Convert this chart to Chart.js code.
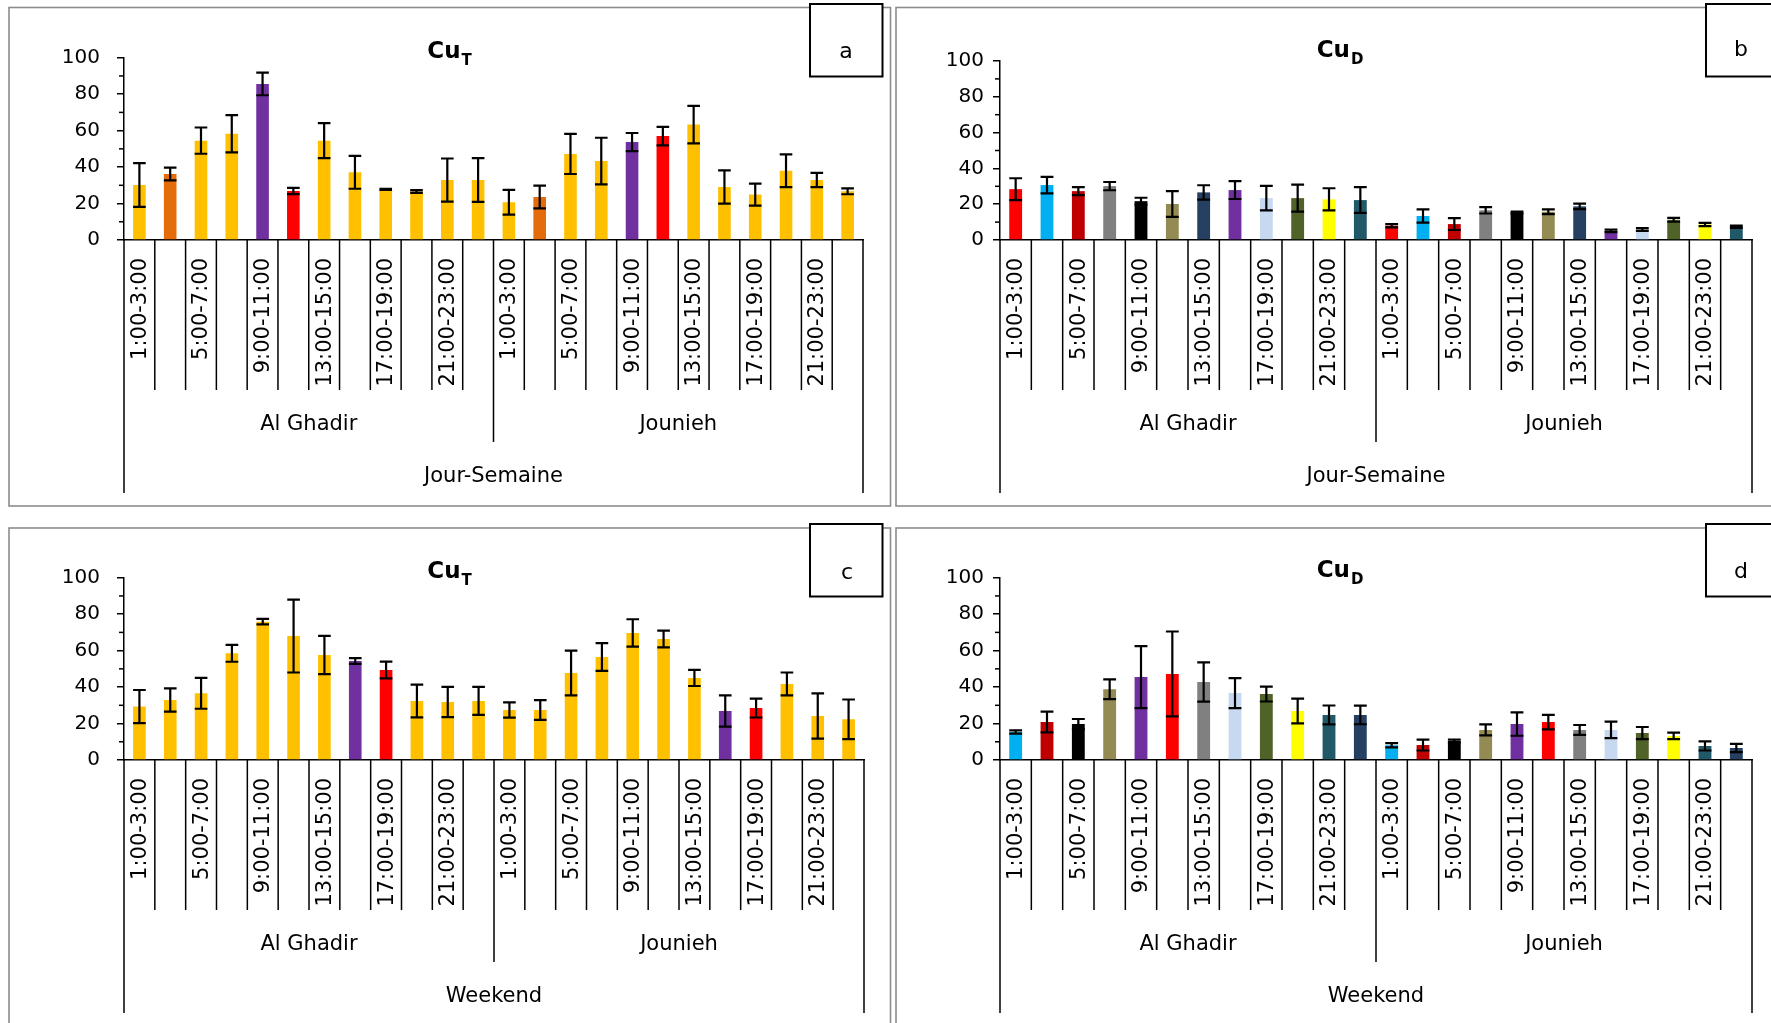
<!DOCTYPE html>
<html><head><meta charset="utf-8">
<script src="https://cdn.jsdelivr.net/npm/chart.js@4.4.1/dist/chart.umd.min.js"></script>
<style>
html,body{margin:0;padding:0;background:#fff;overflow:hidden;width:1771px;height:1023px;}
canvas{position:absolute;}
</style></head><body>
<canvas id="ca" width="893" height="515" style="left:0;top:0"></canvas>
<canvas id="cb" width="878" height="515" style="left:893px;top:0"></canvas>
<canvas id="cc" width="893" height="508" style="left:0;top:515px"></canvas>
<canvas id="cd" width="878" height="508" style="left:893px;top:515px"></canvas>
<script>
// ---------- data ----------
const timeSlots = ['1:00-3:00','3:00-5:00','5:00-7:00','7:00-9:00','9:00-11:00','11:00-13:00',
                   '13:00-15:00','15:00-17:00','17:00-19:00','19:00-21:00','21:00-23:00','23:00-1:00'];
const sites = ['Al Ghadir','Jounieh'];
const yTicks = [0,20,40,60,80,100];

// a: CuT, Jour-Semaine
const aGhadir = [30.2,36.2,54.5,58.3,85.6,26.9,54.5,37.1,27.8,26.6,32.9,32.9];
const aGhadirErr = [12,3.5,7.2,10.2,6.2,1.7,9.6,9,0.3,0.8,11.8,12];
const aJounieh = [20.7,23.6,47.2,43.3,53.7,57,63.3,29.1,24.9,38,32.9,26.7];
const aJouniehErr = [6.8,6.2,11,12.8,5,5.1,10.3,9.1,6,9,3.9,1.6];
// b: CuD, Jour-Semaine
const bGhadir = [28.4,30.7,27.3,30.1,21.7,20.1,26.6,27.9,23.4,23.4,22.7,22.3];
const bGhadirErr = [6.1,4.6,2.2,2.3,1.9,7.2,4,5,6.8,7.5,6.2,7.2];
const bJounieh = [8,13.4,8.9,16.6,15.4,15.8,18.8,5.1,5.9,11.3,8.7,7.4];
const bJouniehErr = [0.9,3.7,3.3,1.8,0.5,1.3,1.5,0.7,0.75,1.1,0.9,0.6];
// c: CuT, Weekend
const cGhadir = [29.3,32.9,36.6,58.5,75.9,68,57.6,54.3,49.4,32.4,31.8,32.4];
const cGhadirErr = [9.1,6.4,8.5,4.6,1.5,20,10.5,1.6,4.6,9,8.3,7.7];
const cJounieh = [27.4,27.4,47.7,56.5,69.7,66.4,45,26.9,28.5,41.7,24.1,22.3];
const cJouniehErr = [4.2,5.4,12.3,7.6,7.5,4.6,4.4,8.6,5.2,6.3,12.4,10.9];
// d: CuD, Weekend
const dGhadir = [15.4,20.8,19.7,38.8,45.5,47.2,42.8,36.7,36.2,26.9,24.7,24.7];
const dGhadirErr = [0.9,5.7,2.8,5.4,17,23.3,10.8,8.2,4.1,6.8,5.2,5.1];
const dJounieh = [8.1,8.2,10.4,16.5,19.7,20.8,16.5,16.5,14.8,13.2,7.7,6.6];
const dJouniehErr = [1.2,3,0.8,3,6.4,4,2.7,4.5,3.3,1.8,2.5,2.3];

// ---------- colours ----------
const Y='#FFC000', O='#E46C0A', P='#7030A0', R='#FF0000';
const colorsA = [Y,O,Y,Y,P,R,Y,Y,Y,Y,Y,Y];
const colorsC = [Y,Y,Y,Y,Y,Y,Y,P,R,Y,Y,Y];
const colorsB = ['#FF0000','#00B0F0','#C00000','#808080','#000000','#948A54','#254061','#7030A0','#C6D9F1','#4F6228','#FFFF00','#215968'];
const colorsD = ['#00B0F0','#C00000','#000000','#948A54','#7030A0','#FF0000','#808080','#C6D9F1','#4F6228','#FFFF00','#215968','#254061'];

const FONT = 'DejaVu Sans';

const panels = [
  {id:'ca', vals:[aGhadir,aJounieh], errs:[aGhadirErr,aJouniehErr], cols:[colorsA,colorsA],
   sub:'T', letter:'a', period:'Jour-Semaine',
   area:{l:124,r:863,t:57.7,b:240}, border:{x:9,y:7.5,w:881.5,h:498.5},
   box:{x:810,y:4,w:72.5,h:72.5}, lp:{x:846,y:52}, tx:449.6, tb:58.3, yPad:17},
  {id:'cb', vals:[bGhadir,bJounieh], errs:[bGhadirErr,bJouniehErr], cols:[colorsB,colorsB],
   sub:'D', letter:'b', period:'Jour-Semaine',
   area:{l:107,r:859,t:61,b:240}, border:{x:3,y:7.5,w:885,h:498.5},
   box:{x:813,y:4,w:80,h:72.5}, lp:{x:848,y:50}, tx:447, tb:56.7, yPad:9},
  {id:'cc', vals:[cGhadir,cJounieh], errs:[cGhadirErr,cJouniehErr], cols:[colorsC,colorsC],
   sub:'T', letter:'c', period:'Weekend',
   area:{l:124,r:864,t:62.7,b:245}, border:{x:9,y:13,w:881.5,h:520},
   box:{x:810,y:9,w:72.5,h:72.5}, lp:{x:847,y:58}, tx:449.6, tb:63.3, yPad:17},
  {id:'cd', vals:[dGhadir,dJounieh], errs:[dGhadirErr,dJouniehErr], cols:[colorsD,colorsD],
   sub:'D', letter:'d', period:'Weekend',
   area:{l:107,r:859,t:62.7,b:245}, border:{x:3,y:13,w:885,h:520},
   box:{x:813,y:9,w:80,h:72.5}, lp:{x:848,y:57}, tx:447, tb:62, yPad:9}
];

function makePanel(cfg){
  const canvas = document.getElementById(cfg.id);
  const W = canvas.width, H = canvas.height;
  const labels = [];
  sites.forEach(s => timeSlots.forEach(t => labels.push([t, s])));
  const values = cfg.vals[0].concat(cfg.vals[1]);
  const errors = cfg.errs[0].concat(cfg.errs[1]);
  const colors = cfg.cols[0].concat(cfg.cols[1]);

  const deco = {
    id:'deco_'+cfg.id,
    afterDatasetsDraw(chart){
      const ctx = chart.ctx, ys = chart.scales.y;
      const meta = chart.getDatasetMeta(0);
      ctx.save();
      ctx.strokeStyle = '#000'; ctx.lineWidth = 2.2;
      meta.data.forEach((bar,i)=>{
        const v = values[i], e = errors[i];
        const yT = ys.getPixelForValue(v+e), yB = ys.getPixelForValue(v-e);
        const hw = bar.width/2;
        ctx.beginPath();
        ctx.moveTo(bar.x, yT); ctx.lineTo(bar.x, yB);
        ctx.moveTo(bar.x-hw, yT); ctx.lineTo(bar.x+hw, yT);
        ctx.moveTo(bar.x-hw, yB); ctx.lineTo(bar.x+hw, yB);
        ctx.stroke();
      });
      ctx.restore();
    },
    afterDraw(chart){
      const ctx = chart.ctx, xs = chart.scales.x, ys = chart.scales.y, a = chart.chartArea;
      ctx.save();
      // minor y ticks
      ctx.strokeStyle='#000'; ctx.lineWidth=1.5;
      for (let i=0;i<yTicks.length-1;i++){
        const y = ys.getPixelForValue((yTicks[i]+yTicks[i+1])/2);
        ctx.beginPath(); ctx.moveTo(a.left-5,y); ctx.lineTo(a.left,y); ctx.stroke();
      }
      // category boundaries
      const step = xs.getPixelForValue(1) - xs.getPixelForValue(0);
      const x0 = xs.getPixelForValue(0) - step/2;
      const n = labels.length, per = timeSlots.length;
      ctx.lineWidth = 1.5;
      for (let k=0;k<=n;k++){
        const x = x0 + k*step;
        let len = 150;
        if (k===0 || k===n) len = 253; else if (k%per===0) len = 202;
        ctx.beginPath(); ctx.moveTo(x, a.bottom); ctx.lineTo(x, a.bottom+len); ctx.stroke();
      }
      // time labels (every other one shown)
      ctx.fillStyle='#000';
      ctx.font = '21px "'+FONT+'"';
      ctx.textAlign='right'; ctx.textBaseline='middle';
      for (let i=0;i<n;i+=2){
        const x = xs.getPixelForValue(i);
        ctx.save(); ctx.translate(x, a.bottom+18); ctx.rotate(-Math.PI/2);
        ctx.fillText(labels[i][0], 0, 1);
        ctx.restore();
      }
      // site labels
      ctx.textAlign='center'; ctx.textBaseline='middle';
      sites.forEach((s,j)=>{
        const xa = x0 + j*per*step, xb = x0 + (j+1)*per*step;
        ctx.fillText(s, (xa+xb)/2, a.bottom+185);
      });
      ctx.fillText(cfg.period, (x0 + x0 + n*step)/2, a.bottom+237);
      // title
      ctx.textAlign='left'; ctx.textBaseline='alphabetic';
      ctx.font = 'bold 23px "'+FONT+'"';
      const w1 = ctx.measureText('Cu').width;
      ctx.font = 'bold 15px "'+FONT+'"';
      const w2 = ctx.measureText(cfg.sub).width;
      const sx = cfg.tx - (w1+1+w2)/2;
      ctx.font = 'bold 23px "'+FONT+'"';
      ctx.fillText('Cu', sx, cfg.tb);
      ctx.font = 'bold 15px "'+FONT+'"';
      ctx.fillText(cfg.sub, sx+w1+1, cfg.tb+7);
      // panel border
      ctx.strokeStyle='#8c8c8c'; ctx.lineWidth=1.6;
      ctx.strokeRect(cfg.border.x, cfg.border.y, cfg.border.w, cfg.border.h);
      // letter box
      ctx.fillStyle='#fff';
      ctx.fillRect(cfg.box.x, cfg.box.y, cfg.box.w, cfg.box.h);
      ctx.strokeStyle='#000'; ctx.lineWidth=2;
      ctx.strokeRect(cfg.box.x, cfg.box.y, cfg.box.w, cfg.box.h);
      ctx.fillStyle='#000';
      ctx.font = '22px "'+FONT+'"';
      ctx.textAlign='center'; ctx.textBaseline='middle';
      ctx.fillText(cfg.letter, cfg.lp.x, cfg.lp.y);
      ctx.restore();
    }
  };

  new Chart(canvas.getContext('2d'), {
    type:'bar',
    data:{labels, datasets:[{data:values, backgroundColor:colors, borderWidth:0,
      barPercentage:0.41, categoryPercentage:1}]},
    options:{
      responsive:false, animation:false, devicePixelRatio:1,
      layout:{padding:{left:0, top:cfg.area.t, right:W-cfg.area.r, bottom:H-cfg.area.b}},
      plugins:{legend:{display:false}, tooltip:{enabled:false}, title:{display:false}},
      scales:{
        x:{display:true, grid:{display:true, drawOnChartArea:false, drawTicks:false, color:'rgba(0,0,0,0)'},
           ticks:{display:false}, border:{display:true, color:'#000', width:1.5},
           afterFit(s){ s.height = 0; }},
        y:{min:0, max:100,
           afterBuildTicks(s){ s.ticks = yTicks.map(v=>({value:v})); },
           ticks:{font:{family:FONT, size:20}, color:'#000', padding:cfg.yPad},
           grid:{display:true, drawOnChartArea:false, drawTicks:true, tickLength:7, color:'#000', lineWidth:1.5},
           border:{display:true, color:'#000', width:1.5},
           afterFit(s){ s.width = cfg.area.l; }}
      }
    },
    plugins:[deco]
  });
}
panels.forEach(makePanel);
</script>
</body></html>
